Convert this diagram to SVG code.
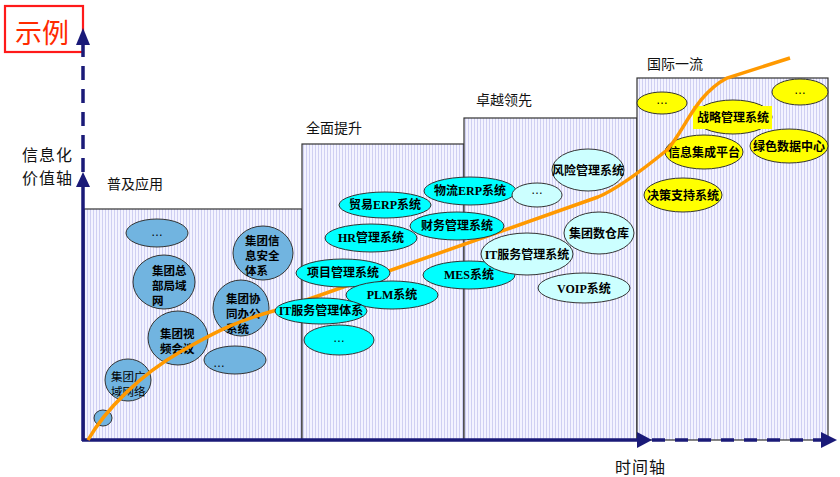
<svg xmlns="http://www.w3.org/2000/svg" width="840" height="477" viewBox="0 0 840 477">
<defs>
<pattern id="stripe" width="3" height="10" patternUnits="userSpaceOnUse">
<rect width="3" height="10" fill="#f3f3ff"/>
<rect width="1" height="10" fill="#cfcff2"/>
</pattern>
<style>
.box{fill:url(#stripe);stroke:#333;stroke-width:1.2}
.stage{font-family:"Noto Sans CJK SC",sans-serif;font-size:14px;fill:#111}
.ax{stroke:#1a1a78;stroke-width:3.5;fill:none}
.axh{fill:#1a1a78}
.e{stroke:#333;stroke-width:1}
.blue{fill:#71b4e0}
.cyan{fill:#00ffff}
.lc{fill:#ccffff}
.yel{fill:#ffff00}
.t{font-family:"Liberation Serif","Noto Sans CJK SC",serif;font-size:12px;font-weight:bold;fill:#000;text-anchor:middle}
.tl{font-family:"Noto Sans CJK SC",sans-serif;font-size:11.5px;font-weight:bold;fill:#000}
.tn{font-family:"Noto Sans CJK SC",sans-serif;font-size:11.5px;fill:#000}
.dots{font-family:"Liberation Sans",sans-serif;font-size:12px;fill:#000;text-anchor:middle}
.axl{font-family:"Noto Sans CJK SC",sans-serif;font-size:16px;fill:#111;letter-spacing:1px}
</style>
</defs>
<rect width="840" height="477" fill="#fff"/>

<g id="stages">
<rect class="box" x="84" y="209" width="218" height="231"/>
<rect class="box" x="302" y="144" width="162" height="296"/>
<rect class="box" x="464" y="118" width="173" height="322"/>
<rect class="box" x="637" y="78" width="191" height="362"/>
<text class="stage" x="107" y="189">普及应用</text>
<text class="stage" x="306" y="133">全面提升</text>
<text class="stage" x="476" y="105">卓越领先</text>
<text class="stage" x="647" y="69">国际一流</text>
</g>

<g id="title">
<rect x="5" y="6" width="78" height="46" fill="none" stroke="#ff1a1a" stroke-width="2.2"/>
<text x="15" y="43" font-family="Noto Sans CJK SC,sans-serif" font-size="27" fill="#ff2a00">示例</text>
</g>

<g id="axes">
<line class="ax" x1="83" y1="441" x2="83" y2="187"/>
<polygon class="axh" points="76,187 90,187 83,172"/>
<line class="ax" x1="83" y1="172" x2="83" y2="45" stroke-dasharray="14,9"/>
<polygon class="axh" points="76,45 90,45 83,28"/>
<line class="ax" x1="82" y1="440" x2="637" y2="440"/>
<polygon class="axh" points="637,432 637,448 652,440"/>
<line class="ax" x1="652" y1="440" x2="822" y2="440" stroke-dasharray="13,10"/>
<polygon class="axh" points="821,432 821,448 837,440"/>
<text class="axl" x="22" y="161">信息化<tspan x="22" dy="23">价值轴</tspan></text>
<text class="axl" x="615" y="473">时间轴</text>
</g>

<g id="n-dots1"><ellipse class="e blue" cx="157" cy="233" rx="31" ry="14"/><text class="dots" x="157" y="236">…</text></g>
<g id="n-zongbu"><ellipse class="e blue" cx="164" cy="282" rx="31" ry="27"/>
<text class="tl" x="152" y="275">集团总<tspan x="152" dy="15">部局域</tspan><tspan x="152" dy="15">网</tspan></text></g>
<g id="n-anquan"><ellipse class="e blue" cx="263" cy="253" rx="30" ry="27"/>
<text class="tl" x="245" y="245">集团信<tspan x="245" dy="15">息安全</tspan><tspan x="245" dy="15">体系</tspan></text></g>
<g id="n-xietong"><ellipse class="e blue" cx="241" cy="308" rx="28" ry="28"/>
<text class="tl" x="226" y="303">集团协<tspan x="226" dy="15">同办公</tspan><tspan x="226" dy="15">系统</tspan></text></g>
<g id="n-shipin"><ellipse class="e blue" cx="178" cy="338" rx="30" ry="27"/>
<text class="tl" x="160" y="338">集团视<tspan x="160" dy="15">频会议</tspan></text></g>
<g id="n-dots2"><ellipse class="e blue" cx="235" cy="360" rx="31" ry="14"/><text class="dots" x="219" y="367">…</text></g>
<g id="n-guangyu"><ellipse class="e blue" cx="128" cy="380" rx="23" ry="21"/>
<text class="tn" x="111" y="381">集团广<tspan x="111" dy="15">域网络</tspan></text></g>
<g id="n-small"><ellipse class="e blue" cx="103" cy="418" rx="9" ry="8"/></g>

<g id="n4-dots1"><ellipse class="e yel" cx="662" cy="103" rx="25" ry="11"/><text class="dots" x="662" y="104">…</text></g>
<g id="n4-dots2"><ellipse class="e yel" cx="800" cy="92" rx="28" ry="13"/><text class="dots" x="800" y="94">…</text></g>
<g id="n4-zhanlue"><ellipse class="e yel" cx="733" cy="117" rx="39" ry="17"/><rect x="693" y="106" width="79" height="23" fill="#ffff00"/><text class="t" x="733" y="122">战略管理系统</text></g>
<g id="n4-jicheng"><ellipse class="e yel" cx="704" cy="152" rx="39" ry="17"/><text class="t" x="704" y="157">信息集成平台</text></g>
<g id="n4-lvse"><ellipse class="e yel" cx="789" cy="146" rx="39" ry="17"/><text class="t" x="789" y="151">绿色数据中心</text></g>
<g id="n4-juece"><ellipse class="e yel" cx="683" cy="195" rx="39" ry="17"/><text class="t" x="683" y="200">决策支持系统</text></g>

<g id="connectors">
<path d="M88,440 C105,410 140,375 180,352 S240,320 277,310 L315,297 L598,197 C615,190 640,172 667,150 C685,130 695,95 727,78 L790,58" fill="none" stroke="#ff9900" stroke-width="3.5"/>
</g>

<g id="n2-maoyi"><ellipse class="e cyan" cx="385" cy="205" rx="46" ry="13"/><text class="t" x="385" y="209">贸易ERP系统</text></g>
<g id="n2-wuliu"><ellipse class="e cyan" cx="470" cy="191" rx="46" ry="14"/><text class="t" x="470" y="195">物流ERP系统</text></g>
<g id="n2-dots"><ellipse class="e lc" cx="537" cy="195" rx="25" ry="12"/><text class="dots" x="537" y="194">…</text></g>
<g id="n2-caiwu"><ellipse class="e cyan" cx="457" cy="226" rx="47" ry="14"/><text class="t" x="457" y="230">财务管理系统</text></g>
<g id="n2-hr"><ellipse class="e cyan" cx="371" cy="238" rx="46" ry="14"/><text class="t" x="371" y="242">HR管理系统</text></g>
<g id="n2-xiangmu"><ellipse class="e cyan" cx="343" cy="273" rx="47" ry="14"/><text class="t" x="343" y="277">项目管理系统</text></g>
<g id="n2-mes"><ellipse class="e cyan" cx="469" cy="275" rx="46" ry="14"/><text class="t" x="469" y="279">MES系统</text></g>
<g id="n2-plm"><ellipse class="e cyan" cx="392" cy="295" rx="46" ry="14"/><text class="t" x="392" y="299">PLM系统</text></g>
<g id="n2-itsm"><ellipse class="e cyan" cx="321" cy="311" rx="46" ry="13"/><text class="t" x="321" y="315">IT服务管理体系</text></g>
<g id="n2-dots2"><ellipse class="e cyan" cx="339" cy="340" rx="35" ry="15"/><text class="dots" x="339" y="342">…</text></g>

<g id="n3-fengxian"><ellipse class="e lc" cx="588" cy="170" rx="36" ry="21"/><text class="t" x="588" y="175">风险管理系统</text></g>
<g id="n3-shucang"><ellipse class="e lc" cx="599" cy="233" rx="35" ry="21"/><text class="t" x="599" y="238">集团数仓库</text></g>
<g id="n3-itsm"><ellipse class="e lc" cx="527" cy="254" rx="46" ry="21"/><text class="t" x="527" y="259">IT服务管理系统</text></g>
<g id="n3-voip"><ellipse class="e lc" cx="584" cy="288" rx="46" ry="15"/><text class="t" x="584" y="293">VOIP系统</text></g>
</svg>
